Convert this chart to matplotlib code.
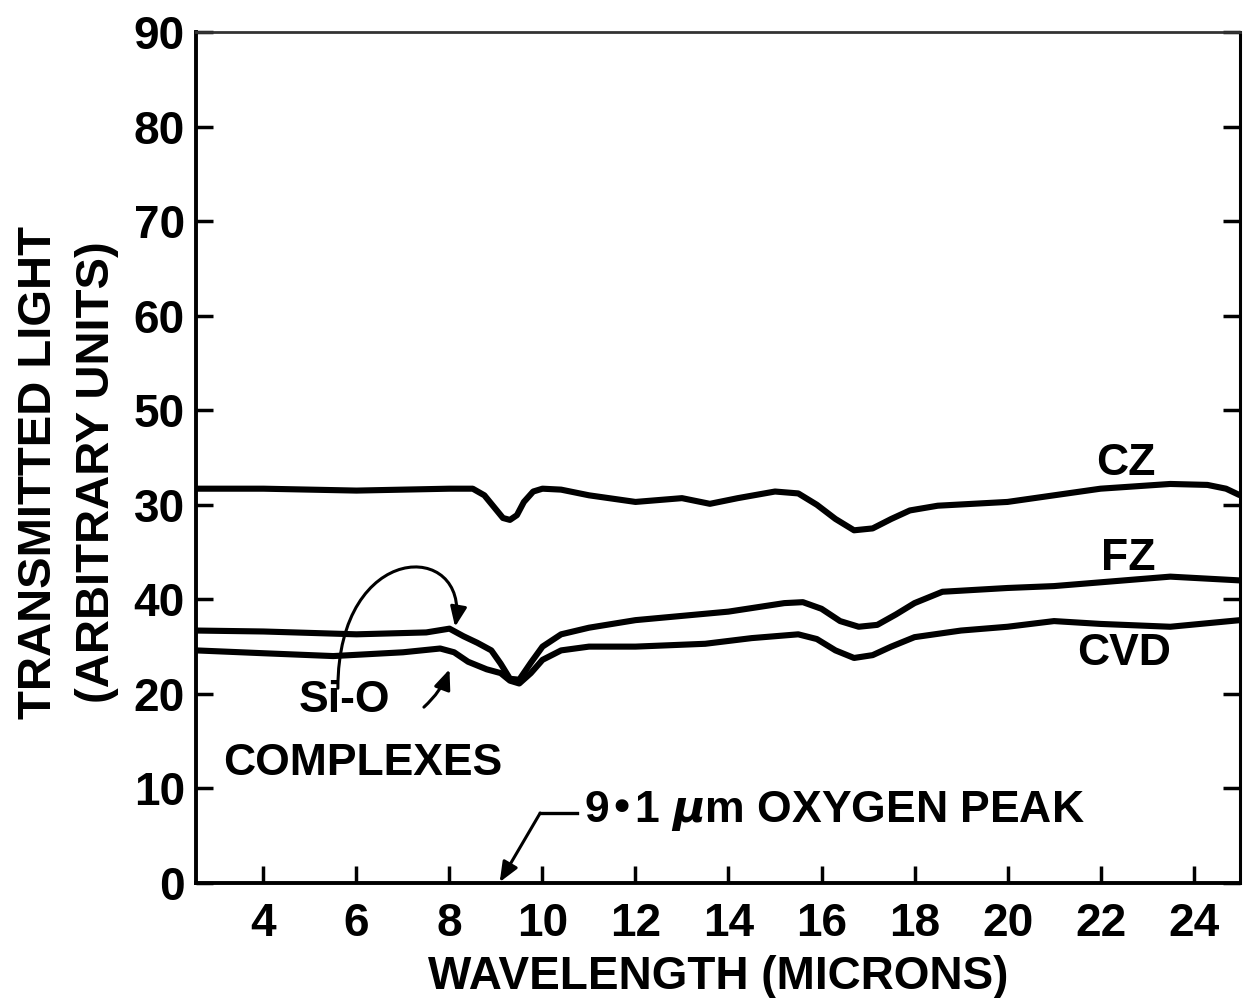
import matplotlib
matplotlib.use("Agg")
import matplotlib.pyplot as plt
from matplotlib.patches import FancyArrowPatch
from matplotlib.path import Path

plt.rcParams["font.family"] = ["Liberation Sans", "DejaVu Sans"]
plt.rcParams["font.weight"] = "bold"

# values (wavelength in microns, transmitted light)
cz_x = [2.55, 4, 6, 8, 8.5, 8.75, 8.95, 9.15, 9.3, 9.45, 9.6, 9.8, 10.0, 10.4, 11, 12, 13,
        13.6, 14.2, 15, 15.5, 15.9, 16.3, 16.7, 17.1, 17.5, 17.9, 18.5, 20, 21, 22, 23.5,
        24.3, 24.7, 25]
cz_y = [41.7, 41.7, 41.5, 41.7, 41.7, 41.0, 39.8, 38.6, 38.4, 38.9, 40.3, 41.4, 41.7, 41.6,
        41.0, 40.3, 40.7, 40.1, 40.7, 41.4, 41.2, 40.0, 38.5, 37.3, 37.5, 38.5, 39.4, 39.9,
        40.3, 41.0, 41.7, 42.2, 42.1, 41.7, 41.0]

fz_x = [2.55, 4, 6, 7.5, 8.0, 8.3, 8.6, 8.9, 9.1, 9.3, 9.5, 9.75, 10.0, 10.4, 11, 12, 14,
        15.2, 15.6, 16.0, 16.4, 16.8, 17.2, 17.6, 18, 18.6, 20, 21, 22, 23.5, 25]
fz_y = [26.7, 26.6, 26.3, 26.5, 26.9, 26.1, 25.4, 24.6, 23.2, 21.6, 21.5, 23.3, 25.0, 26.3,
        27.0, 27.8, 28.7, 29.6, 29.7, 29.0, 27.7, 27.1, 27.3, 28.4, 29.6, 30.8, 31.2, 31.4,
        31.8, 32.4, 32.0]

cvd_x = [2.55, 4, 5.5, 7, 7.8, 8.1, 8.4, 8.8, 9.1, 9.3, 9.5, 9.75, 10.0, 10.4, 11, 12, 13.5,
         14.5, 15.5, 15.9, 16.3, 16.7, 17.1, 17.5, 18, 19, 20, 21, 22, 23.5, 25]
cvd_y = [24.6, 24.3, 24.0, 24.4, 24.8, 24.4, 23.4, 22.6, 22.2, 21.4, 21.1, 22.2, 23.6, 24.6,
         25.0, 25.0, 25.3, 25.9, 26.3, 25.8, 24.6, 23.8, 24.1, 25.0, 26.0, 26.7, 27.1, 27.7,
         27.4, 27.1, 27.8]

x_ticks = [4, 6, 8, 10, 12, 14, 16, 18, 20, 22, 24]
y_ticks = [0, 10, 20, 30, 40, 50, 60, 70, 80, 90]
y_tick_labels = ["0", "10", "20", "40", "30", "50", "60", "70", "80", "90"]  # as printed

fig = plt.figure(figsize=(12.44, 9.98), dpi=100)
ax = fig.add_axes([0.1576, 0.1152, 0.8392, 0.8528])

for xs, ys in [(cz_x, cz_y), (fz_x, fz_y), (cvd_x, cvd_y)]:
    ax.plot(xs, ys, color="black", linewidth=4.4, solid_joinstyle="round",
            solid_capstyle="butt")

ax.set_xlim(2.55, 25.0)
ax.set_ylim(0, 90)
ax.set_xticks(x_ticks)
ax.set_yticks(y_ticks)
ax.set_yticklabels(y_tick_labels)
ax.tick_params(axis="both", direction="in", length=12, width=2.5, labelsize=33)
ax.tick_params(axis="y", right=True, labelright=False, pad=8)
ax.tick_params(axis="x", top=False, pad=14)
for lab in ax.get_xticklabels() + ax.get_yticklabels():
    lab.set_fontweight("bold")

ax.spines["left"].set_linewidth(2.8)
ax.spines["bottom"].set_linewidth(2.8)
ax.spines["right"].set_linewidth(2.2)
ax.spines["top"].set_linewidth(2.0)
ax.spines["top"].set_color("#333333")

ax.set_xlabel("WAVELENGTH (MICRONS)", fontsize=33, fontweight="bold", labelpad=6)
fig.text(0.031, 0.527, "TRANSMITTED LIGHT", rotation=90, fontsize=34, fontweight="bold",
         ha="center", va="center")
fig.text(0.078, 0.527, "(ARBITRARY UNITS)", rotation=90, fontsize=34, fontweight="bold",
         ha="center", va="center")

# curve labels
ax.text(22.55, 44.4, "CZ", fontsize=32, fontweight="bold", ha="center", va="center")
ax.text(22.6, 34.3, "FZ", fontsize=32, fontweight="bold", ha="center", va="center")
ax.text(22.5, 24.3, "CVD", fontsize=32, fontweight="bold", ha="center", va="center")

# Si-O complexes annotation
ax.text(5.75, 19.3, "Si-O", fontsize=32, fontweight="bold", ha="center", va="center")
ax.text(6.14, 12.6, "COMPLEXES", fontsize=32, fontweight="bold", ha="center", va="center")
arc = Path([(5.60, 20.6), (5.60, 36.3), (8.44, 36.3), (8.12, 27.1)],
           [Path.MOVETO, Path.CURVE4, Path.CURVE4, Path.CURVE4])
ax.add_patch(FancyArrowPatch(path=arc, arrowstyle="-|>,head_length=12,head_width=5",
                             color="black", linewidth=2.2))
ax.add_patch(FancyArrowPatch((7.45, 18.6), (8.0, 22.6), connectionstyle="arc3,rad=0.12",
                             arrowstyle="-|>,head_length=12,head_width=5", color="black",
                             linewidth=2.2, shrinkA=0, shrinkB=0))

# oxygen peak annotation
ax.text(10.9, 7.6, r"9•1 $\mu$m OXYGEN PEAK", fontsize=32, fontweight="bold",
        ha="left", va="center")
ax.plot([9.95, 10.75], [7.4, 7.4], color="black", linewidth=2.4)
ax.add_patch(FancyArrowPatch((9.95, 7.4), (9.08, 0.1),
                             arrowstyle="-|>,head_length=12,head_width=5",
                             color="black", linewidth=2.2, shrinkA=0, shrinkB=0))

fig.savefig("out.png", dpi=100, facecolor="white")
